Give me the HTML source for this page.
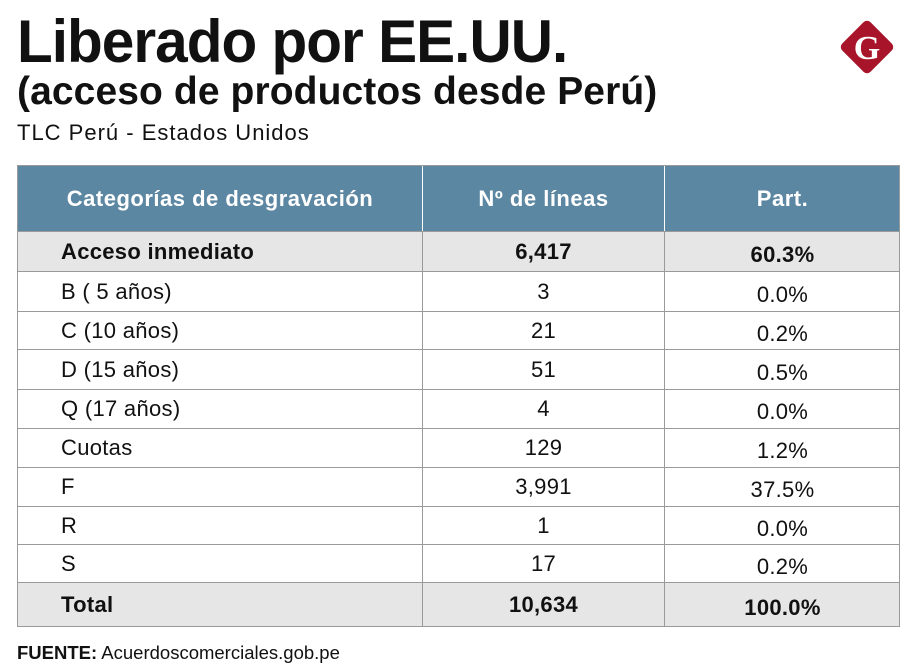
<!DOCTYPE html>
<html><head><meta charset="utf-8"><style>
body{margin:0;width:920px;height:671px;background:#fff;position:relative;overflow:hidden;font-family:"Liberation Sans",sans-serif;color:#111}
.t1{position:absolute;left:17px;top:7px;font-size:60px;font-weight:bold;letter-spacing:-1px;transform:scaleX(0.975);transform-origin:left;white-space:nowrap}
.t2{position:absolute;left:17px;top:70px;font-size:39px;font-weight:bold;letter-spacing:0.1px;white-space:nowrap}
.t3{position:absolute;left:17px;top:120px;font-size:22px;letter-spacing:1px;white-space:nowrap}
.tbl{position:absolute;left:17px;top:165px;width:883px;border:1px solid #9a9a9a;box-sizing:border-box}
.row{position:relative;border-top:1px solid #9a9a9a;box-sizing:border-box;font-size:22px;letter-spacing:0.3px}
.row.h{background:#5c87a2;color:#fff;font-weight:bold;border-top:none;font-size:22px;letter-spacing:0.5px}
.row.g{background:#e6e6e6;font-weight:bold}
.c{position:absolute;top:0;bottom:0;display:flex;align-items:center;box-sizing:border-box}
.c1{left:0;width:404px;padding-left:43px}
.c2{left:404px;width:242px;justify-content:center;border-left:1px solid #9a9a9a}
.c3{left:646px;width:236px;justify-content:center;border-left:1px solid #9a9a9a;padding-top:6px}
.h .c{justify-content:center;padding-top:0}
.h .c2,.h .c3{border-left:1px solid #fff}
.h .c1{padding-left:0}
.foot{position:absolute;left:17px;top:642px;font-size:18.5px;letter-spacing:0px}
</style></head><body>
<div class="t1">Liberado por EE.UU.</div>
<div class="t2">(acceso de productos desde Perú)</div>
<div class="t3">TLC Perú - Estados Unidos</div>
<svg style="position:absolute;left:835px;top:15px" width="64" height="64">
<rect x="12" y="12" width="40" height="40" rx="5" fill="#a8142a" transform="rotate(45 32 32)"/>
<text x="32" y="44" text-anchor="middle" font-family="Liberation Serif" font-weight="bold" font-size="34" fill="#fff">G</text></svg>
<div class="tbl">
<div class="row h" style="height:65px"><div class="c c1">Categorías de desgravación</div><div class="c c2">Nº de líneas</div><div class="c c3">Part.</div></div>
<div class="row g" style="height:40px"><div class="c c1">Acceso inmediato</div><div class="c c2">6,417</div><div class="c c3">60.3%</div></div>
<div class="row" style="height:40px"><div class="c c1">B ( 5 años)</div><div class="c c2">3</div><div class="c c3">0.0%</div></div>
<div class="row" style="height:38px"><div class="c c1">C (10 años)</div><div class="c c2">21</div><div class="c c3">0.2%</div></div>
<div class="row" style="height:40px"><div class="c c1">D (15 años)</div><div class="c c2">51</div><div class="c c3">0.5%</div></div>
<div class="row" style="height:39px"><div class="c c1">Q (17 años)</div><div class="c c2">4</div><div class="c c3">0.0%</div></div>
<div class="row" style="height:39px"><div class="c c1">Cuotas</div><div class="c c2">129</div><div class="c c3">1.2%</div></div>
<div class="row" style="height:39px"><div class="c c1">F</div><div class="c c2">3,991</div><div class="c c3">37.5%</div></div>
<div class="row" style="height:38px"><div class="c c1">R</div><div class="c c2">1</div><div class="c c3">0.0%</div></div>
<div class="row" style="height:38px"><div class="c c1">S</div><div class="c c2">17</div><div class="c c3">0.2%</div></div>
<div class="row g" style="height:44px"><div class="c c1">Total</div><div class="c c2">10,634</div><div class="c c3">100.0%</div></div>
</div>
<div class="foot"><b>FUENTE:</b> Acuerdoscomerciales.gob.pe</div>
</body></html>
